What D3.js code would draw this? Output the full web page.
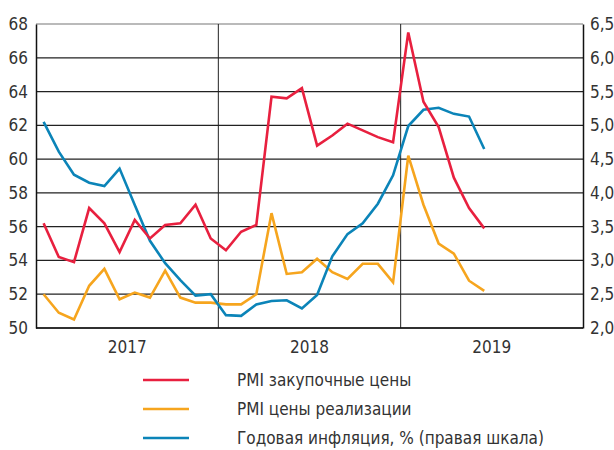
<html>
<head>
<meta charset="utf-8">
<script src="https://d3js.org/d3.v7.min.js"></script>
<style>
  body { margin: 0; background: #fff; }
  text { font-family: "DejaVu Sans Condensed", "Liberation Sans Narrow", sans-serif; fill: #333; }
</style>
</head>
<body>
<svg id="chart" width="614" height="450"></svg>
<script>
// months Jan 2017 .. Jun 2019
var years = ["2017", "2018", "2019"];
var leftTicks = [50, 52, 54, 56, 58, 60, 62, 64, 66, 68];
var rightTicks = ["2,0", "2,5", "3,0", "3,5", "4,0", "4,5", "5,0", "5,5", "6,0", "6,5"];

var pmiInput = [56.2, 54.2, 53.9, 57.1, 56.2, 54.5, 56.4, 55.3, 56.1, 56.2, 57.3, 55.3,
                54.6, 55.7, 56.1, 63.7, 63.6, 64.2, 60.8, 61.4, 62.1, 61.7, 61.3, 61.0,
                67.5, 63.4, 61.9, 58.9, 57.1, 55.9];
var pmiOutput = [52.0, 50.9, 50.5, 52.5, 53.5, 51.7, 52.1, 51.8, 53.4, 51.8, 51.5, 51.5,
                 51.4, 51.4, 52.0, 56.8, 53.2, 53.3, 54.1, 53.3, 52.9, 53.8, 53.8, 52.7,
                 60.2, 57.3, 55.0, 54.4, 52.8, 52.2];
var inflation = [5.05, 4.61, 4.27, 4.15, 4.10, 4.36, 3.82, 3.29, 2.96, 2.71, 2.48, 2.50,
                 2.19, 2.18, 2.35, 2.40, 2.41, 2.29, 2.49, 3.06, 3.39, 3.55, 3.84, 4.26,
                 4.99, 5.23, 5.26, 5.17, 5.13, 4.65];

var legendNames = ["PMI закупочные цены", "PMI цены реализации", "Годовая инфляция, % (правая шкала)"];
var colors = ["#e8203f", "#f6a51e", "#0b84b8"];

var plotL = 36, plotR = 583, plotT = 24, plotB = 328;
var svg = d3.select("#chart");

var x = d3.scaleLinear().domain([0, 36]).range([plotL, plotR]);
var y = d3.scaleLinear().domain([50, 68]).range([plotB, plotT]);
var y2 = d3.scaleLinear().domain([2, 6.5]).range([plotB, plotT]);

// horizontal grid
svg.append("g")
  .selectAll("line")
  .data(leftTicks)
  .enter()
  .append("line")
    .attr("x1", plotL).attr("x2", plotR)
    .attr("y1", function(d) { return y(d); })
    .attr("y2", function(d) { return y(d); })
    .attr("stroke", function(d) { return d == 68 ? "#777" : "#222"; })
    .attr("stroke-width", 1.2);

// year separators
svg.append("g")
  .selectAll("line")
  .data([12, 24])
  .enter()
  .append("line")
    .attr("x1", function(d) { return x(d); })
    .attr("x2", function(d) { return x(d); })
    .attr("y1", plotT).attr("y2", plotB)
    .attr("stroke", "#222").attr("stroke-width", 1);

// axes
var leftAxis = d3.axisLeft(y).tickValues(leftTicks).tickSize(0).tickPadding(8);
var gl = svg.append("g").attr("transform", "translate(" + plotL + ",0)").call(leftAxis);
var rightAxis = d3.axisRight(y2).tickValues(d3.range(2, 6.51, 0.5)).tickSize(0).tickPadding(7)
  .tickFormat(function(d, i) { return rightTicks[i]; });
var gr = svg.append("g").attr("transform", "translate(" + plotR + ",0)").call(rightAxis);
[gl, gr].forEach(function(g) {
  g.select(".domain").attr("stroke", "#111").attr("stroke-width", 1.5);
  g.selectAll("text").style("font-size", "17px").attr("fill", "#333");
});
svg.append("line")
  .attr("x1", plotL).attr("x2", plotR).attr("y1", plotB).attr("y2", plotB)
  .attr("stroke", "#111").attr("stroke-width", 1.5);

// year labels
svg.append("g")
  .selectAll("text")
  .data(years)
  .enter()
  .append("text")
    .attr("x", function(d, i) { return x(i * 12 + 6); })
    .attr("y", 353)
    .attr("text-anchor", "middle")
    .style("font-size", "17px")
    .text(function(d) { return d; });

// series
var line = function(scale) {
  return d3.line()
    .x(function(d, i) { return x(i + 0.5); })
    .y(function(d) { return scale(d); });
};
var series = [[pmiInput, y], [pmiOutput, y], [inflation, y2]];
[1, 2, 0].forEach(function(k) {
  svg.append("path")
    .datum(series[k][0])
    .attr("d", line(series[k][1]))
    .attr("fill", "none")
    .attr("stroke", colors[k])
    .attr("stroke-width", 2.6)
    .attr("stroke-linejoin", "miter");
});

// legend
var leg = svg.append("g")
  .selectAll("g")
  .data(legendNames)
  .enter()
  .append("g")
    .attr("transform", function(d, i) { return "translate(0," + (380 + i * 29) + ")"; });
leg.append("line")
  .attr("x1", 143).attr("x2", 189).attr("y1", 0).attr("y2", 0)
  .attr("stroke", function(d, i) { return colors[i]; })
  .attr("stroke-width", 2.6);
leg.append("text")
  .attr("x", 237).attr("y", 6)
  .style("font-size", "17px")
  .text(function(d) { return d; });
</script>
</body>
</html>
